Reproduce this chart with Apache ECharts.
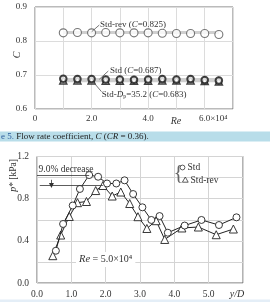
<!DOCTYPE html>
<html>
<head>
<meta charset="utf-8">
<script src="https://cdn.jsdelivr.net/npm/echarts@6/dist/echarts.min.js"></script>
<style>html,body{margin:0;padding:0;background:#fff}#c{width:270px;height:302px}</style>
</head>
<body>
<div id="c"></div>
<script>
// ---- Top chart: flow rate coefficient C vs Re (x10^4)
const reValues = [1.0, 1.5, 2.0, 2.5, 3.0, 3.5, 4.0, 4.5, 5.0, 5.5, 6.0, 6.5];
const cStdRev = [0.824, 0.825, 0.824, 0.825, 0.824, 0.824, 0.824, 0.823, 0.822, 0.822, 0.822, 0.819];
const cStd    = [0.689, 0.688, 0.688, 0.687, 0.687, 0.686, 0.687, 0.688, 0.687, 0.688, 0.685, 0.684];
const cStdDp  = [0.684, 0.684, 0.684, 0.683, 0.683, 0.683, 0.683, 0.684, 0.684, 0.684, 0.682, 0.681];
const meanStdRev = 0.825, meanStd = 0.687, meanStdDp = 0.683;
const topYTicks = [0.6, 0.7, 0.8, 0.9];

// ---- Bottom chart: p* [kPa] vs y/D (Re = 5.0x10^4)
const yDStd = [0.55, 0.76, 1.04, 1.25, 1.52, 1.78, 2.04, 2.31, 2.55, 2.80, 3.07, 3.33, 3.57, 3.81, 4.30, 4.79, 5.30, 5.81];
const pStd  = [0.306, 0.560, 0.735, 0.892, 1.024, 1.008, 0.944, 0.944, 0.974, 0.844, 0.718, 0.598, 0.635, 0.477, 0.545, 0.598, 0.550, 0.623];
const yDRev = [0.46, 0.69, 0.94, 1.18, 1.44, 1.71, 1.92, 2.19, 2.44, 2.70, 2.94, 3.20, 3.47, 3.72, 4.22, 4.70, 5.22, 5.72];
const pRev  = [0.259, 0.455, 0.631, 0.762, 0.773, 0.877, 0.925, 0.825, 0.863, 0.754, 0.629, 0.517, 0.591, 0.413, 0.522, 0.531, 0.458, 0.512];

const FONT = 'Liberation Serif';
const zip = (a, b) => a.map((v, i) => [v, b[i]]);
const pStdMax = Math.max(...pStd), pStdMaxX = yDStd[pStd.indexOf(pStdMax)];
const pRevMax = Math.max(...pRev), pRevMaxX = yDRev[pRev.indexOf(pRevMax)];

const chart = echarts.init(document.getElementById('c'), null, {renderer: 'canvas'});
const lbl = {fontFamily: FONT, fontSize: 9, color: '#333'};

const option = {
  animation: false,
  grid: [
    {left: 35, top: 7, width: 198, height: 102, show: true, borderColor: '#777', borderWidth: 1, backgroundColor: 'transparent'},
    {left: 37, top: 156.5, width: 206, height: 126.5, show: true, borderColor: '#666', borderWidth: 1, backgroundColor: 'transparent'}
  ],
  xAxis: [
    {gridIndex: 0, type: 'value', min: 0, max: 7, interval: 1,
     axisLine: {show: false}, axisTick: {show: false},
     splitLine: {lineStyle: {color: '#dcdcdc', width: 1}},
     axisLabel: Object.assign({}, lbl, {margin: 5, showMaxLabel: true,
       formatter: v => v === 0 ? '0' : (v === 6 ? '{p|6.0×10⁴}' : (v % 2 === 0 ? v.toFixed(1) : '')),
       rich: {p: {fontFamily: FONT, fontSize: 9, color: '#333', padding: [0, 0, 0, 17]}}})},
    {gridIndex: 1, type: 'value', min: 0, max: 6, interval: 1,
     axisLine: {show: false}, axisTick: {show: false},
     splitLine: {lineStyle: {color: '#d4d4d4', width: 1}},
     axisLabel: Object.assign({}, lbl, {fontSize: 9.5, margin: 6, showMaxLabel: true,
       formatter: v => v === 6 ? '{i|y/D}' : v.toFixed(1),
       rich: {i: {fontFamily: FONT, fontSize: 10, fontStyle: 'italic', color: '#333', padding: [0, 12, 0, 0]}}})}
  ],
  yAxis: [
    {gridIndex: 0, type: 'value', min: 0.6, max: 0.9, interval: 0.1,
     axisLine: {show: false}, axisTick: {show: false},
     splitLine: {lineStyle: {color: '#dcdcdc', width: 1}},
     axisLabel: Object.assign({}, lbl, {margin: 8, formatter: v => v.toFixed(1)})},
    {gridIndex: 1, type: 'value', min: 0, max: 1.2, interval: 0.2,
     axisLine: {show: false}, axisTick: {show: false},
     splitLine: {lineStyle: {color: '#d4d4d4', width: 1}},
     axisLabel: Object.assign({}, lbl, {fontSize: 9.5, margin: 8,
       formatter: v => (Math.round(v * 10) % 4 === 0) ? v.toFixed(1) : ''})}
  ],
  series: [
    // mean lines (gray) behind the markers
    {type: 'line', xAxisIndex: 0, yAxisIndex: 0, z: 1, symbol: 'none', silent: true,
     lineStyle: {color: '#cfcfcf', width: 3}, data: [[reValues[0], meanStdRev], [reValues[reValues.length - 1], meanStdRev]]},
    {type: 'line', xAxisIndex: 0, yAxisIndex: 0, z: 1, symbol: 'none', silent: true,
     lineStyle: {color: '#cfcfcf', width: 3}, data: [[reValues[0], meanStd], [reValues[reValues.length - 1], meanStd]]},
    {type: 'line', xAxisIndex: 0, yAxisIndex: 0, z: 1, symbol: 'none', silent: true,
     lineStyle: {color: '#cfcfcf', width: 3}, data: [[reValues[0], meanStdDp], [reValues[reValues.length - 1], meanStdDp]]},
    {type: 'scatter', name: 'Std-rev', xAxisIndex: 0, yAxisIndex: 0, z: 3, symbol: 'circle', symbolSize: 8,
     itemStyle: {color: '#fff', borderColor: '#555', borderWidth: 1.1}, data: zip(reValues, cStdRev)},
    {type: 'scatter', name: 'Std-Dp', xAxisIndex: 0, yAxisIndex: 0, z: 3, symbol: 'triangle', symbolSize: 7,
     itemStyle: {color: '#fff', borderColor: '#111', borderWidth: 1.5}, data: zip(reValues, cStdDp)},
    {type: 'scatter', name: 'Std', xAxisIndex: 0, yAxisIndex: 0, z: 4, symbol: 'circle', symbolSize: 6.5,
     itemStyle: {color: '#fff', borderColor: '#111', borderWidth: 2}, data: zip(reValues, cStd)},
    // bottom chart
    {type: 'line', name: 'Std-rev', xAxisIndex: 1, yAxisIndex: 1, z: 3, symbol: 'triangle', symbolSize: 8,
     lineStyle: {color: '#222', width: 1}, itemStyle: {color: '#fff', borderColor: '#222', borderWidth: 0.9},
     data: zip(yDRev, pRev),
     markLine: {silent: true, symbol: 'none', label: {show: false}, lineStyle: {color: '#333', width: 0.8, type: 'solid'},
       data: [[{coord: [0.08, pRevMax]}, {coord: [pRevMaxX, pRevMax]}]]}},
    {type: 'line', name: 'Std', xAxisIndex: 1, yAxisIndex: 1, z: 4, symbol: 'circle', symbolSize: 7,
     lineStyle: {color: '#222', width: 1}, itemStyle: {color: '#fff', borderColor: '#222', borderWidth: 0.9},
     data: zip(yDStd, pStd),
     markLine: {silent: true, symbol: 'none', label: {show: false}, lineStyle: {color: '#333', width: 0.8, type: 'solid'},
       data: [
         [{coord: [0.0, pStdMax]}, {coord: [pStdMaxX, pStdMax]}],
         [{coord: [0.42, pStdMax - 0.045], symbol: 'none'}, {coord: [0.42, pRevMax], symbol: 'triangle', symbolSize: 5}]
       ]}}
  ],
  graphic: [
    // top chart annotations
    {type: 'text', z: 100, x: 17, y: 55, rotation: Math.PI / 2,
     style: {text: 'C', font: 'italic 10px "Liberation Serif"', fill: '#333', textAlign: 'center', textVerticalAlign: 'middle'}},
    {type: 'text', z: 100, x: 176, y: 121.5,
     style: {text: 'Re', font: 'italic 10px "Liberation Serif"', fill: '#333', textAlign: 'center', textVerticalAlign: 'middle'}},
    {type: 'line', z: 100, shape: {x1: 91.7, y1: 31.7, x2: 99.3, y2: 25}, style: {stroke: '#555', lineWidth: 0.8}},
    {type: 'line', z: 100, shape: {x1: 99.3, y1: 79.3, x2: 108.3, y2: 71}, style: {stroke: '#555', lineWidth: 0.8}},
    {type: 'line', z: 100, shape: {x1: 93.3, y1: 82, x2: 101.5, y2: 91.7}, style: {stroke: '#555', lineWidth: 0.8}},
    {type: 'text', z: 100, x: 100, y: 25,
     style: {text: 'Std-rev ({i|C}=0.825)', font: '9px "Liberation Serif"', fill: '#333', textVerticalAlign: 'middle',
       rich: {i: {fontFamily: FONT, fontSize: 9, fontStyle: 'italic', fill: '#333'}}}},
    {type: 'text', z: 100, x: 110, y: 71,
     style: {text: 'Std ({i|C}=0.687)', font: '9px "Liberation Serif"', fill: '#333', textVerticalAlign: 'middle',
       rich: {i: {fontFamily: FONT, fontSize: 9, fontStyle: 'italic', fill: '#333'}}}},
    {type: 'text', z: 100, x: 101.7, y: 94.3,
     style: {text: 'Std-{i|D}{s|p}=35.2 ({i|C}=0.683)', font: '9px "Liberation Serif"', fill: '#333', textVerticalAlign: 'middle',
       rich: {i: {fontFamily: FONT, fontSize: 9, fontStyle: 'italic', fill: '#333'},
              s: {fontFamily: FONT, fontSize: 6, fill: '#333', padding: [5, 0, 0, 0]}}}},
    // caption band
    {type: 'rect', z: 90, shape: {x: 0, y: 131.5, width: 270, height: 10}, style: {fill: '#b8dde9'}},
    {type: 'text', z: 100, x: 1, y: 136.8,
     style: {text: '{b|e 5.} Flow rate coefficient, {i|C} ({i|CR} = 0.36).', font: '9px "Liberation Serif"', fill: '#222', textVerticalAlign: 'middle',
       rich: {b: {fontFamily: FONT, fontSize: 9, fill: '#2a5a9a'}, i: {fontFamily: FONT, fontSize: 9, fontStyle: 'italic', fill: '#222'}}}},
    {type: 'rect', z: 90, shape: {x: 0, y: 299.5, width: 270, height: 3}, style: {fill: '#e4eef7'}},
    // bottom chart annotations
    {type: 'text', z: 100, x: 13, y: 175.5, rotation: Math.PI / 2,
     style: {text: '{i|p}* [kPa]', font: '9.5px "Liberation Serif"', fill: '#333', textAlign: 'center', textVerticalAlign: 'middle',
       rich: {i: {fontFamily: FONT, fontSize: 10, fontStyle: 'italic', fill: '#333'}}}},
    {type: 'text', z: 100, x: 38.5, y: 169,
     style: {text: '9.0% decrease', font: '9.5px "Liberation Serif"', fill: '#333', textVerticalAlign: 'middle'}},
    {type: 'text', z: 100, x: 76, y: 259.5,
     style: {text: '{i|Re} = 5.0×10⁴', font: '10px "Liberation Serif"', fill: '#333', textVerticalAlign: 'middle',
       backgroundColor: '#fff', padding: [2, 3, 2, 3],
       rich: {i: {fontFamily: FONT, fontSize: 10.5, fontStyle: 'italic', fill: '#333'}}}},
    // legend
    {type: 'text', z: 100, x: 178.5, y: 173,
     style: {text: '{', font: '21px "Liberation Serif"', fill: '#666', textAlign: 'center', textVerticalAlign: 'middle'}},
    {type: 'circle', z: 100, shape: {cx: 182.5, cy: 167.5, r: 2.4}, style: {fill: '#fff', stroke: '#333', lineWidth: 0.8}},
    {type: 'text', z: 100, x: 187.5, y: 167.5,
     style: {text: 'Std', font: '9.5px "Liberation Serif"', fill: '#333', textVerticalAlign: 'middle'}},
    {type: 'polygon', z: 100, shape: {points: [[185.3, 177], [182.4, 182.2], [188.2, 182.2]]}, style: {fill: '#fff', stroke: '#333', lineWidth: 0.8}},
    {type: 'text', z: 100, x: 190.5, y: 180,
     style: {text: 'Std-rev', font: '9.5px "Liberation Serif"', fill: '#333', textVerticalAlign: 'middle'}}
  ]
};
chart.setOption(option);
</script>
</body>
</html>
